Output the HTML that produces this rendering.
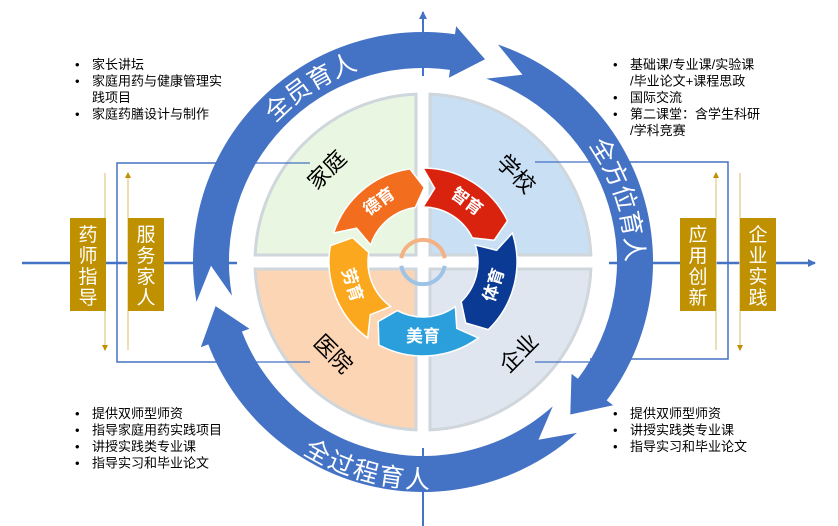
<!DOCTYPE html>
<html><head><meta charset="utf-8"><style>
html,body{margin:0;padding:0;background:#fff;width:838px;height:526px;overflow:hidden}
svg{display:block}
text{font-family:"Liberation Sans","Noto Sans CJK SC",sans-serif}
</style></head><body>
<svg id="s" width="838" height="526" viewBox="0 0 838 526" xmlns="http://www.w3.org/2000/svg">
<defs>
<marker id="ab" markerWidth="8" markerHeight="8" refX="7" refY="4" orient="auto" markerUnits="userSpaceOnUse"><path d="M0,0 L8,4 L0,8 Z" fill="#4472c4"/></marker>
<marker id="ag" markerWidth="6" markerHeight="6" refX="5" refY="3" orient="auto" markerUnits="userSpaceOnUse"><path d="M0,0 L6,3 L0,6 Z" fill="#c09000"/></marker>
</defs>
<g id="g"></g>
</svg>
<script>
var cx=423,cy=262,out='';
function P(r,a){a=a*Math.PI/180;return [cx+r*Math.sin(a),cy-r*Math.cos(a)];}
function pt(r,a){var p=P(r,a);return p[0].toFixed(1)+','+p[1].toFixed(1);}
function arc(r,a1,a2,sw){var l=Math.abs(a2-a1)>180?1:0;return 'A'+r+','+r+' 0 '+l+','+sw+' '+pt(r,a2);}
out+='<line x1="423" y1="526" x2="423" y2="12" stroke="#4472c4" stroke-width="2" marker-end="url(#ab)"/>';
out+='<line x1="22" y1="263" x2="815" y2="263" stroke="#4472c4" stroke-width="2.5" marker-end="url(#ab)"/>';
out+='<path d="M255,163 L117,163 L117,362 L255,362" fill="none" stroke="#4472c4" stroke-width="1.5"/>';
out+='<path d="M590,162 L728,162 L728,359 L590,359" fill="none" stroke="#4472c4" stroke-width="1.5"/>';
out+='<line x1="105" y1="173" x2="105" y2="350" stroke="#e8d39a" stroke-width="1.5" marker-end="url(#ag)"/>';
out+='<line x1="128" y1="350" x2="128" y2="173" stroke="#e8d39a" stroke-width="1.5" marker-end="url(#ag)"/>';
out+='<line x1="716" y1="350" x2="716" y2="173" stroke="#e8d39a" stroke-width="1.5" marker-end="url(#ag)"/>';
out+='<line x1="740" y1="173" x2="740" y2="350" stroke="#e8d39a" stroke-width="1.5" marker-end="url(#ag)"/>';
function box(x,t){out+='<rect x="'+x+'" y="218" width="36" height="93" fill="#bf9000"/>';for(var i=0;i<4;i++)out+='<text x="'+(x+18)+'" y="'+(241+i*21)+'" font-size="19" fill="#fff" text-anchor="middle">'+t[i]+'</text>';}
box(70,'药师指导');box(128,'服务家人');box(680,'应用创新');box(740,'企业实践');
var R1=230,R2=194,Rm=212;
out+='<circle cx="423" cy="262" r="186" fill="#fff"/>';
function seg(a1,a2){var h=9;var b=a2-h;
 var d='M'+pt(R2,a1)+' L'+pt(Rm,a1+h)+' L'+pt(R1,a1)+' '+arc(R1,a1,b,1)+' L'+pt(R1+8,b)+' L'+pt(Rm,a2)+' L'+pt(R2-8,b)+' L'+pt(R2,b)+' '+arc(R2,b,a1,0)+' Z';
 out+='<path d="'+d+'" fill="#4472c4"/>';}
seg(-100,17);seg(19,136);seg(138,258);
out+='<path id="t1" d="M'+pt(203,-75)+' '+arc(203,-75,10,1)+'" fill="none"/>';
out+='<path id="t2" d="M'+pt(203,35)+' '+arc(203,35,125,1)+'" fill="none"/>';
out+='<path id="t3" d="M'+pt(208,245)+' '+arc(208,245,150,0)+'" fill="none"/>';
out+='<text font-size="25" fill="#fff"><textPath href="#t1" startOffset="100">全员育人</textPath></text>';
out+='<text font-size="25" fill="#fff"><textPath href="#t2" startOffset="70">全方位育人</textPath></text>';
out+='<text font-size="25" fill="#fff" dominant-baseline="hanging"><textPath href="#t3" startOffset="118">全过程育人</textPath></text>';
var R=168,g=7;
function quad(sx,sy,fill){var dy=Math.sqrt(R*R-g*g);
 var p1=[cx+sx*g,cy+sy*g],p2=[cx+sx*g,cy+sy*dy],p3=[cx+sx*dy,cy+sy*g];
 var sw; if(sx<0&&sy<0)sw=0; if(sx>0&&sy<0)sw=1; if(sx>0&&sy>0)sw=0; if(sx<0&&sy>0)sw=1;
 out+='<path d="M'+p1+' L'+p2+' A'+R+','+R+' 0 0,'+sw+' '+p3+' Z" fill="'+fill+'" stroke="#cfd6dc" stroke-width="3"/>';}
quad(-1,-1,'#e9f6e1');quad(1,-1,'#c8dff4');quad(-1,1,'#fcd5b4');quad(1,1,'#dfe6ef');
out+='<line x1="255" y1="163" x2="310" y2="163" stroke="#4472c4" stroke-width="1.2"/><line x1="535" y1="162" x2="590" y2="162" stroke="#4472c4" stroke-width="1.2"/>';
out+='<line x1="255" y1="362" x2="310" y2="362" stroke="#4472c4" stroke-width="1.2"/><line x1="535" y1="362" x2="590" y2="362" stroke="#4472c4" stroke-width="1.2"/>';
function lab(x,y,r,t){out+='<text x="'+x+'" y="'+y+'" font-size="22" text-anchor="middle" dominant-baseline="central" transform="rotate('+r+' '+x+' '+y+')">'+t+'</text>';}
lab(327,170,-45,'家庭');lab(516,174,45,'学校');lab(333,354,45,'医院');lab(519,353,-45,'企业');
var r1=94,r2=55,rm=74.5;
function ia(a1,a2,col,t){var h=9;var b=a2;
 var d='M'+pt(r2,a1)+' L'+pt(rm,a1+h)+' L'+pt(r1,a1)+' '+arc(r1,a1,b,1)+' L'+pt(rm,b+h)+' L'+pt(r2,b)+' '+arc(r2,b,a1,0)+' Z';
 out+='<path d="'+d+'" fill="'+col+'" stroke="#fff" stroke-width="1.5"/>';
 var m=(a1+a2)/2+4,p=P(rm,m),rot=m; if(m>100&&m<260)rot=m-180;
 out+='<text x="'+p[0].toFixed(1)+'" y="'+p[1].toFixed(1)+'" font-size="17" font-weight="bold" fill="#fff" text-anchor="middle" dominant-baseline="central" transform="rotate('+rot+' '+p[0].toFixed(1)+' '+p[1].toFixed(1)+')">'+t+'</text>';}
ia(0,64,'#d9230f','智育');ia(72,136,'#0b3a94','体育');ia(144,208,'#2b9fdb','美育');ia(216,280,'#fba81e','劳育');ia(288,352,'#f26d1d','德育');
out+='<path d="M'+pt(22,-80)+' '+arc(22,-80,80,1)+'" fill="none" stroke="#f4b183" stroke-width="4"/>';
out+='<path d="M'+pt(22,100)+' '+arc(22,100,260,1)+'" fill="none" stroke="#9dc3e6" stroke-width="4"/>';
function bl(x,y,lines){for(var i=0;i<lines.length;i++){var L=lines[i];if(L[0])out+='<text x="'+x+'" y="'+(y+i*16.5)+'" font-size="13">•</text>';out+='<text x="'+(x+17)+'" y="'+(y+i*16.5)+'" font-size="13">'+L[1]+'</text>';}}
bl(75,69,[[1,'家长讲坛'],[1,'家庭用药与健康管理实'],[0,'践项目'],[1,'家庭药膳设计与制作']]);
bl(613,69,[[1,'基础课/专业课/实验课'],[0,'/毕业论文+课程思政'],[1,'国际交流'],[1,'第二课堂：含学生科研'],[0,'/学科竞赛']]);
bl(75,418,[[1,'提供双师型师资'],[1,'指导家庭用药实践项目'],[1,'讲授实践类专业课'],[1,'指导实习和毕业论文']]);
bl(613,418,[[1,'提供双师型师资'],[1,'讲授实践类专业课'],[1,'指导实习和毕业论文']]);
document.getElementById('g').innerHTML=out;
</script>
</body></html>
